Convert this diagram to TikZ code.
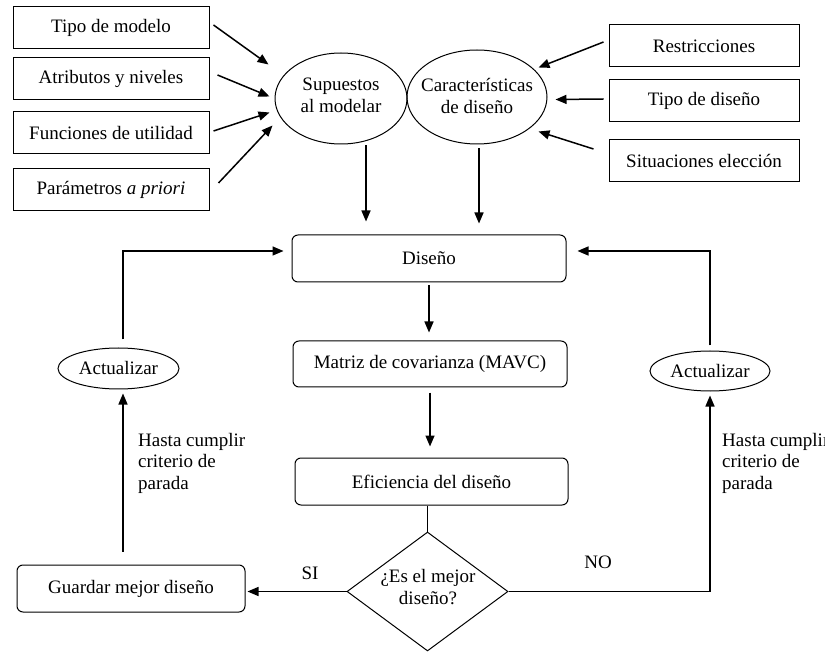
\documentclass[tikz,border=0pt]{standalone}
\usepackage{fontspec}
\setmainfont{Liberation Serif}
\usetikzlibrary{shapes.geometric,arrows.meta,calc}
\begin{document}
\begin{tikzpicture}[x=1pt,y=-1pt,
  every node/.style={font=\fontsize{19}{21.5}\selectfont},
  sqbox/.style={draw,line width=1pt,inner sep=0pt,minimum height=42pt},
  rbox/.style={draw,line width=1pt,rounded corners=6pt,inner sep=0pt,minimum height=47pt,minimum width=274pt},
  oval/.style={draw,ellipse,line width=1pt,inner sep=0pt},
  dia/.style={draw,diamond,line width=1pt,inner sep=0pt,minimum width=161pt,minimum height=119pt},
  arr/.style={line width=1.5pt,-{Triangle[length=11pt,width=9pt]}},
  ln/.style={line width=1.3pt},
  txt/.style={inner sep=0pt,align=center},
  lbl/.style={inner sep=0pt,align=left,anchor=north west}]
\useasboundingbox (0,0) rectangle (825,652);
% left inputs
\node[sqbox,minimum width=196pt] (tm) at (111,28) {Tipo de modelo};
\node[sqbox,minimum width=196pt] (an) at (111,79) {Atributos y niveles};
\node[sqbox,minimum width=196pt] (fu) at (111,133) {Funciones de utilidad};
\node[sqbox,minimum width=196pt] (pa) at (111,189.5) {Parámetros \textit{a priori}};
% right inputs
\node[sqbox,minimum width=190pt] (re) at (704,46) {Restricciones};
\node[sqbox,minimum width=190pt] (td) at (704,101) {Tipo de diseño};
\node[sqbox,minimum width=190pt] (se) at (704,161) {Situaciones elección};
% ellipses
\node[oval,minimum width=132pt,minimum height=91pt] (su) at (341,98.5) {};
\node[txt] (sut) at ($(su)+(0,-3)$) {Supuestos\\al modelar};
\node[oval,minimum width=140pt,minimum height=94pt] (ca) at (477,97) {};
\node[txt] (cat) at ($(ca)+(0,-1)$) {Características\\de diseño};
% main flow
\node[rbox] (di) at (429,258.5) {Diseño};
\node[rbox,minimum height=46pt] (ma) at (430,364) {Matriz de covarianza (MAVC)};
\node[rbox,minimum width=273pt] (ef) at (431.5,481.5) {Eficiencia del diseño};
\node[dia] (q) at (427.5,591.5) {};
\node[txt] (qt) at (428,587) {¿Es el mejor\\diseño?};
\node[rbox,minimum width=228pt] (gu) at (131,588.5) {Guardar mejor diseño};
\node[oval,minimum width=121pt,minimum height=41pt] (a1) at (118.5,368.5) {Actualizar};
\node[oval,minimum width=120pt,minimum height=40pt] (a2) at (710,371) {Actualizar};
% labels
\node[lbl] (h1) at (138,433) {Hasta cumplir\\criterio de\\parada};
\node[lbl] (h2) at (722,433) {Hasta cumplir\\criterio de\\parada};
\node[inner sep=0pt] (si) at (310,573) {SI};
\node[inner sep=0pt] (no) at (598,562) {NO};
% input arrows
\draw[arr] ($(tm.east)+(4,-3)$) -- ($(su.west)+(-6,-34)$);
\draw[arr] ($(an.east)+(8,-4)$) -- ($(su.west)+(-5,-2)$);
\draw[arr] ($(fu.east)+(4,-2)$) -- ($(su.west)+(-5,14)$);
\draw[arr] ($(pa.east)+(9,-6.5)$) -- ($(su.west)+(-2,27)$);
\draw[arr] ($(re.west)+(-5,-4)$) -- ($(ca.east)+(-9,-29.5)$);
\draw[arr] ($(td.west)+(-5,-2)$) -- ($(ca.east)+(8,2.5)$);
\draw[arr] ($(se.west)+(-15,-12)$) -- ($(ca.east)+(-9,34.5)$);
\draw[arr] ($(su.south)+(25,1)$) -- ($(di.north)+(-63,-13)$);
\draw[arr] ($(ca.south)+(2,4)$) -- ($(di.north)+(50,-11)$);
% flow arrows
\draw[arr,shorten <=3pt,shorten >=8pt] (di.south) -- (di.south |- ma.north);
\draw[arr,shorten <=5pt,shorten >=11pt] (ma.south) -- (ma.south |- ef.north);
\draw[ln] (ef.south -| q.north) -- (q.north);
\draw[arr,shorten >=2pt] (q.west) -- (q.west -| gu.east);
\draw[arr,shorten >=4pt] (q.east) -| (a2.south);
\draw[arr] ($(a2.north)+(0,-5)$) |- ($(di.east)+(11,-7.5)$);
\draw[arr] ($(gu.north)+(-8,-13)$) -- ($(a1.south)+(4.5,4)$);
\draw[arr] ($(a1.north)+(4.5,-8)$) |- ($(di.west)+(-8,-7.5)$);
\end{tikzpicture}
\end{document}
